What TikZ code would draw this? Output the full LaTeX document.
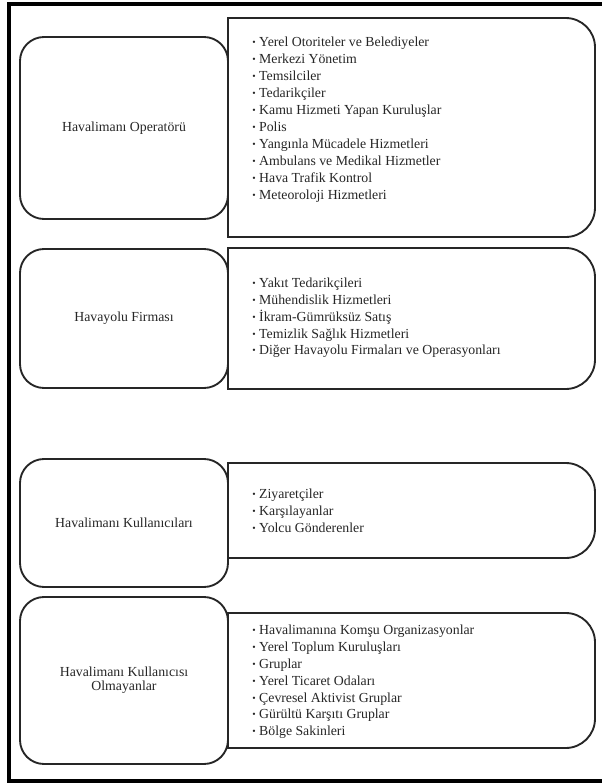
\documentclass[tikz,border=0pt]{standalone}
\usepackage{fontspec}
\setmainfont{Liberation Serif}
\usepackage{graphicx}
\newcommand{\blt}{\makebox[0.5em][l]{\raisebox{0.15ex}{\scalebox{0.7}{•}}}}
\newcommand{\rboxpath}[5]{%
  \coordinate (#1nw) at (#2,#3);
  \coordinate (#1se) at (#4,#5);
  \draw[rline] (#2,{(#3+#5)/2}) -- (#1nw) -- ({(#2+#4)/2},#3) [rounded corners=22pt] -- (#4,#3) -- (#1se) -- ({(#2+#4)/2},#5) [sharp corners] -- (#2,#5) -- cycle;}
\begin{document}
\begin{tikzpicture}[x=0.75pt,y=-0.75pt,
  lbox/.style={draw=black!85, line width=1.4pt, rounded corners=18pt, minimum width=156pt, align=center, inner sep=2pt, text=black!85, font=\fontsize{10.35pt}{10.5pt}\selectfont},
  rline/.style={draw=black!85, line width=1.4pt},
  itm/.style={anchor=west, align=left, inner sep=0pt, text=black!85, font=\fontsize{10.35pt}{12.6pt}\selectfont},
  frame/.style={draw=black, line width=3pt}]
\useasboundingbox (0,0) rectangle (601,783);
\fill[white] (0,0) rectangle (601,783);
\draw[frame] (9,4) rectangle (610,780.5);

% right boxes
\rboxpath{r1}{228}{18}{595}{237}
\rboxpath{r2}{228}{248}{595}{389}
\rboxpath{r3}{228}{463}{595}{558}
\rboxpath{r4}{228}{613}{595}{748}

% left boxes
\node[lbox, minimum height=136.5pt] (l1) at (124,128) {Havalimanı Operatörü};
\node[lbox, minimum height=104.25pt] (l2) at (124,318.5) {Havayolu Firması};
\node[lbox, minimum height=96pt] (l3) at (124,523) {Havalimanı Kullanıcıları};
\node[lbox, minimum height=125.25pt] (l4) at (124,680.5) {Havalimanı Kullanıcısı\\Olmayanlar};

% lists
\node[itm, font=\fontsize{10.35pt}{12.75pt}\selectfont] (t1) at (252,120) {\blt Yerel Otoriteler ve Belediyeler\\
\blt Merkezi Yönetim\\
\blt Temsilciler\\
\blt Tedarikçiler\\
\blt Kamu Hizmeti Yapan Kuruluşlar\\
\blt Polis\\
\blt Yangınla Mücadele Hizmetleri\\
\blt Ambulans ve Medikal Hizmetler\\
\blt Hava Trafik Kontrol\\
\blt Meteoroloji Hizmetleri};

\node[itm] (t2) at (252,318) {\blt Yakıt Tedarikçileri\\
\blt Mühendislik Hizmetleri\\
\blt İkram-Gümrüksüz Satış\\
\blt Temizlik Sağlık Hizmetleri\\
\blt Diğer Havayolu Firmaları ve Operasyonları};

\node[itm] (t3) at (252,511) {\blt Ziyaretçiler\\
\blt Karşılayanlar\\
\blt Yolcu Gönderenler};

\node[itm] (t4) at (252,682) {\blt Havalimanına Komşu Organizasyonlar\\
\blt Yerel Toplum Kuruluşları\\
\blt Gruplar\\
\blt Yerel Ticaret Odaları\\
\blt Çevresel Aktivist Gruplar\\
\blt Gürültü Karşıtı Gruplar\\
\blt Bölge Sakinleri};
\end{tikzpicture}
\end{document}
